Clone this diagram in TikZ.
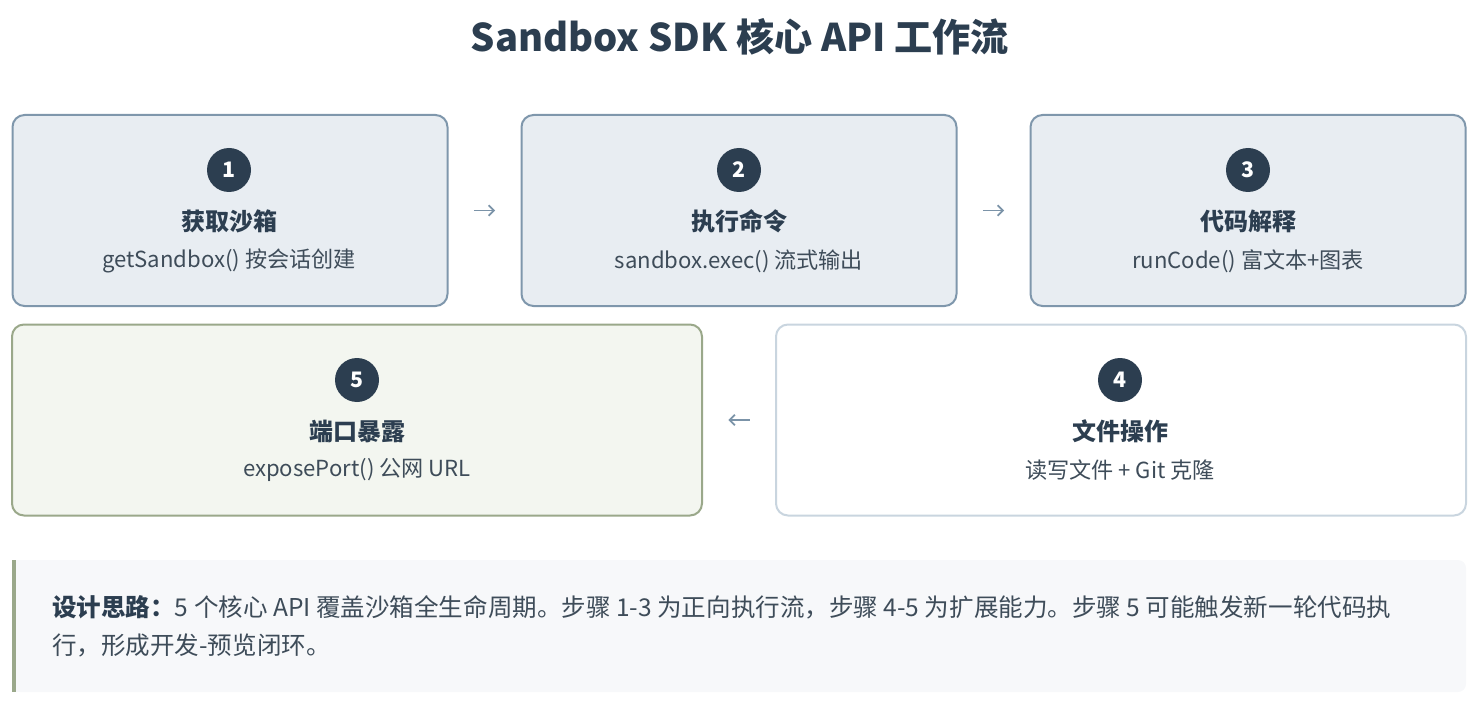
\documentclass[tikz,border=0pt]{standalone}
\usepackage{fontspec}
\setmainfont{Noto Sans CJK SC}
\usepackage{tikz}
\usetikzlibrary{arrows.meta}

\definecolor{ink}{HTML}{2C3E50}
\definecolor{subink}{HTML}{3E4C59}
\definecolor{topfill}{HTML}{E8EDF2}
\definecolor{topline}{HTML}{7F97AC}
\definecolor{greenfill}{HTML}{F3F6F0}
\definecolor{greenline}{HTML}{9AA88A}
\definecolor{plainline}{HTML}{C9D5DF}
\definecolor{notefill}{HTML}{F7F8FA}
\definecolor{flowline}{HTML}{7B93A8}

\tikzset{
  stepbox/.style={draw, line width=1.5pt, rounded corners=9pt, minimum height=143.25pt},
  narrow/.style={minimum width=326.25pt},
  wide/.style={minimum width=517.5pt},
  num/.style={circle, fill=ink, text=white, minimum size=33pt, inner sep=0pt,
    font=\fontsize{16}{16}\selectfont\bfseries},
  steptitle/.style={text=ink, inner sep=0pt, font=\fontsize{18}{22}\selectfont\bfseries},
  stepsub/.style={text=subink, inner sep=0pt, font=\fontsize{16.6}{20}\selectfont},
  flow/.style={draw=flowline, line width=1.3pt, -{Straight Barb[length=4pt,width=8pt]},
    shorten <=19pt, shorten >=19pt}
}

\begin{document}
\begin{tikzpicture}[x=0.75pt,y=-0.75pt]
\useasboundingbox (0,0) rectangle (1480,702);

% title
\node[text=ink, font=\fontsize{28.6}{34}\selectfont\bfseries] (title) at (740,37) {Sandbox SDK 核心 API 工作流};

% top row
\node[stepbox, narrow, fill=topfill, draw=topline] (b1) at (230,210.5) {};
\node[stepbox, narrow, fill=topfill, draw=topline] (b2) at (739,210.5) {};
\node[stepbox, narrow, fill=topfill, draw=topline] (b3) at (1248,210.5) {};

\node[num] (n1) at (229,170) {1};
\node[steptitle] (t1) at (229,221) {获取沙箱};
\node[stepsub] (s1) at (229,261) {getSandbox() 按会话创建};

\node[num] (n2) at (739,170) {2};
\node[steptitle] (t2) at (739,221) {执行命令};
\node[stepsub] (s2) at (739,261) {sandbox.exec() 流式输出};

\node[num] (n3) at (1248,170) {3};
\node[steptitle] (t3) at (1248,221) {代码解释};
\node[stepsub] (s3) at (1248,261) {runCode() 富文本+图表};

% bottom row
\node[stepbox, wide, fill=greenfill, draw=greenline] (b5) at (357,420) {};
\node[stepbox, wide, fill=white, draw=plainline] (b4) at (1121,420) {};

\node[num] (n5) at (357,380) {5};
\node[steptitle] (t5) at (357,431) {端口暴露};
\node[stepsub] (s5) at (357,470) {exposePort() 公网 URL};

\node[num] (n4) at (1120,380) {4};
\node[steptitle] (t4) at (1120,431) {文件操作};
\node[stepsub] (s4) at (1120,470) {读写文件 + Git 克隆};

% flow arrows
\draw[flow] (b1) -- (b2);
\draw[flow] (b2) -- (b3);
\draw[flow] (b4) -- (b5);

% note
\node[fill=notefill, rounded corners=6pt, minimum width=1090.5pt, minimum height=99pt] (note) at (739,626) {};
\fill[notefill] (12,560) rectangle (40,692);
\fill[greenline] (12,560) rectangle (16,692);
\node[anchor=north west, inner sep=0pt, align=left, text=subink,
  font=\fontsize{18.4}{28.5}\selectfont] (notetext) at (52,595)
  {{\color{ink}\bfseries 设计思路：}5 个核心 API 覆盖沙箱全生命周期。步骤 1-3 为正向执行流，步骤 4-5 为扩展能力。步骤 5 可能触发新一轮代码执\\
   行，形成开发-预览闭环。};

\end{tikzpicture}
\end{document}
